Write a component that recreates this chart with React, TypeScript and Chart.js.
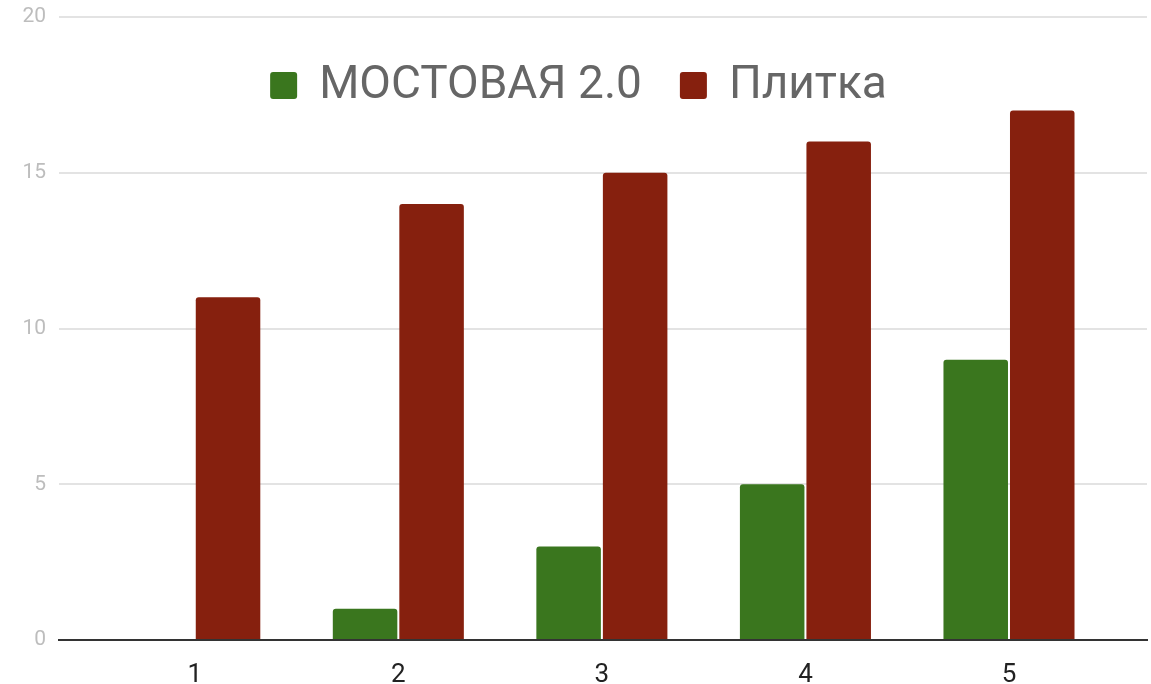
import React, { useEffect, useRef } from "react";
import { Chart, registerables } from "chart.js";

Chart.register(...registerables);

const categories = ["1", "2", "3", "4", "5"];
const seriesNames = ["МОСТОВАЯ 2.0", "Плитка"];
const mostovaya = [0, 1, 3, 5, 9];
const plitka = [11, 14, 15, 16, 17];
const yTicks = [0, 5, 10, 15, 20];
const seriesColors = ["#3a761e", "#86200e"];

const insideLegend = {
  id: "insideLegend",
  afterDatasetsDraw(chart: any) {
    const ctx = chart.ctx as CanvasRenderingContext2D;
    const fontSize = 46;
    const box = 27;
    const gap = 22;
    const itemGap = 38;
    const cy = 85.5;
    ctx.save();
    ctx.font = `${fontSize}px Roboto`;
    const items = chart.data.datasets.map((ds: any) => ({
      label: ds.label as string,
      color: ds.backgroundColor as string,
      w: ctx.measureText(ds.label).width,
    }));
    const total =
      items.reduce((s: number, it: any) => s + box + gap + it.w, 0) + itemGap * (items.length - 1);
    let x = chart.width / 2 - total / 2 + 3;
    ctx.textBaseline = "middle";
    ctx.textAlign = "left";
    for (const it of items) {
      ctx.fillStyle = it.color;
      ctx.beginPath();
      (ctx as any).roundRect(x, cy - box / 2, box, box, 3);
      ctx.fill();
      ctx.fillStyle = "#666666";
      ctx.fillText(it.label, x + box + gap, cy + 1);
      x += box + gap + it.w + itemGap;
    }
    ctx.restore();
  },
};

export default function App() {
  const ref = useRef<HTMLCanvasElement | null>(null);

  useEffect(() => {
    document.body.style.margin = "0";
    document.body.style.overflow = "hidden";
    if (!ref.current) return;
    Chart.defaults.font.family = "Roboto";
    const toPoints = (arr: number[]) => arr.map((y, i) => ({ x: i + 1, y }));
    const chart = new Chart(ref.current, {
      type: "bar",
      data: {
        datasets: [
          {
            label: seriesNames[0],
            data: toPoints(mostovaya),
            backgroundColor: seriesColors[0],
            borderRadius: { topLeft: 3, topRight: 3, bottomLeft: 0, bottomRight: 0 },
            borderSkipped: "start",
          },
          {
            label: seriesNames[1],
            data: toPoints(plitka),
            backgroundColor: seriesColors[1],
            borderRadius: { topLeft: 3, topRight: 3, bottomLeft: 0, bottomRight: 0 },
            borderSkipped: "start",
          },
        ],
      },
      plugins: [insideLegend],
      options: {
        animation: false,
        responsive: true,
        maintainAspectRatio: false,
        categoryPercentage: 0.6536,
        barPercentage: 0.97,
        layout: { padding: { top: 17, right: 4, left: 0, bottom: 0 } },
        plugins: {
          tooltip: { enabled: false },
          legend: { display: false },
        },
        scales: {
          x: {
            type: "linear",
            offset: false,
            min: 0.333,
            max: 5.678,
            z: 1,
            grid: { display: false },
            border: { display: true, color: "#333333", width: 2 },
            afterBuildTicks: (scale: any) => {
              scale.ticks = categories.map((_, i) => ({ value: i + 1 }));
            },
            afterFit: (scale: any) => {
              scale.height = 44;
              scale.paddingLeft = 0;
              scale.paddingRight = 0;
            },
            ticks: {
              color: "#222222",
              font: { size: 26 },
              padding: 12,
              maxRotation: 0,
              callback: (v: any) => categories[Number(v) - 1] ?? "",
            },
          },
          y: {
            min: 0,
            max: 20,
            afterBuildTicks: (scale: any) => {
              scale.ticks = yTicks.map((v) => ({ value: v }));
            },
            afterFit: (scale: any) => {
              scale.width = 59;
              scale.paddingTop = 0;
              scale.paddingBottom = 0;
            },
            grid: { color: "#e3e3e3", lineWidth: 2, drawTicks: false },
            border: { display: false },
            ticks: {
              color: "#bdbdbd",
              font: { size: 21 },
              padding: 13,
            },
          },
        },
      },
    });
    return () => chart.destroy();
  }, []);

  return (
    <div style={{ width: 1151, height: 684, position: "relative" }}>
      <canvas ref={ref} />
    </div>
  );
}
